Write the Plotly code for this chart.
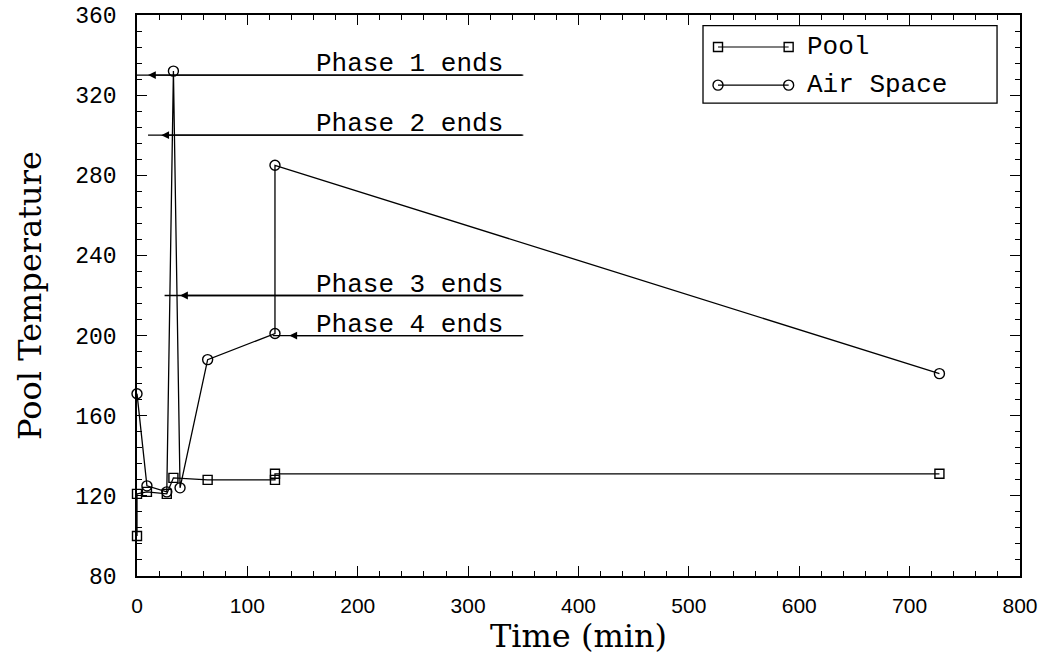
import plotly.graph_objects as go

# ---- data ----
pool_t = [0, 0, 9, 27, 33, 64, 125, 125, 727]
pool_T = [100, 121, 122, 121, 129, 128, 128, 131, 131]

air_t = [0, 9, 27, 33, 39, 64, 125, 125, 727]
air_T = [171, 125, 122, 332, 124, 188, 201, 285, 181]

phase_labels = ["Phase 1 ends", "Phase 2 ends", "Phase 3 ends", "Phase 4 ends"]
phase_T = [330, 300, 220, 200]
phase_head_t = [10, 22, 39, 138]
phase_start_t = [0, 10, 25, 123]
phase_end_t = 350
phase_text_t = 333

x_ticks = [0, 100, 200, 300, 400, 500, 600, 700, 800]
y_ticks = [80, 120, 160, 200, 240, 280, 320, 360]

MONO = "Liberation Mono"
SERIF = "DejaVu Serif"

fig = go.Figure()

fig.add_trace(go.Scatter(
    x=pool_t, y=pool_T, mode="lines+markers", name="Pool",
    line=dict(color="black", width=1.3),
    marker=dict(symbol="square-open", size=9, color="black", line=dict(width=1.4)),
    showlegend=False, cliponaxis=False))
fig.add_trace(go.Scatter(
    x=air_t, y=air_T, mode="lines+markers", name="Air Space",
    line=dict(color="black", width=1.3),
    marker=dict(symbol="circle-open", size=10, color="black", line=dict(width=1.4)),
    showlegend=False, cliponaxis=False))

shapes = []
annotations = []
for lab, T, hx, sx in zip(phase_labels, phase_T, phase_head_t, phase_start_t):
    shapes.append(dict(type="line", xref="x", yref="y", x0=sx, x1=phase_end_t, y0=T, y1=T,
                       line=dict(color="black", width=1.3)))
    annotations.append(dict(x=hx, y=T, ax=phase_end_t, ay=T, xref="x", yref="y",
                            axref="x", ayref="y", text="", showarrow=True,
                            arrowhead=2, arrowsize=1.2, arrowwidth=1.3, arrowcolor="black"))
    annotations.append(dict(x=phase_text_t, y=T, xref="x", yref="y", text=lab,
                            showarrow=False, xanchor="right", yanchor="bottom", yshift=-6,
                            font=dict(family=MONO, size=26, color="black")))

# custom legend (paper-fraction coordinates on an overlay axis)
shapes.append(dict(type="rect", xref="paper", yref="paper", x0=0.641, x1=0.974, y0=0.843,
                   y1=0.981, line=dict(color="black", width=1.3), fillcolor="white", layer="below"))
leg_x = [0.658, 0.738]
fig.add_trace(go.Scatter(x=leg_x, y=[0.943, 0.943], xaxis="x2", yaxis="y2",
                         mode="lines+markers", line=dict(color="black", width=1.2),
                         marker=dict(symbol="square-open", size=9, color="black", line=dict(width=1.4)),
                         showlegend=False, hoverinfo="skip"))
fig.add_trace(go.Scatter(x=leg_x, y=[0.875, 0.875], xaxis="x2", yaxis="y2",
                         mode="lines+markers", line=dict(color="black", width=1.2),
                         marker=dict(symbol="circle-open", size=10, color="black", line=dict(width=1.4)),
                         showlegend=False, hoverinfo="skip"))
annotations.append(dict(x=0.757, y=0.943, xref="paper", yref="paper", text="Pool",
                        showarrow=False, xanchor="left", yanchor="middle",
                        font=dict(family=MONO, size=26, color="black")))
annotations.append(dict(x=0.757, y=0.875, xref="paper", yref="paper", text="Air Space",
                        showarrow=False, xanchor="left", yanchor="middle",
                        font=dict(family=MONO, size=26, color="black")))

fig.update_layout(
    width=1055, height=657,
    margin=dict(l=137, r=35, t=15, b=81, autoexpand=False),
    paper_bgcolor="white", plot_bgcolor="white",
    showlegend=False,
    shapes=shapes, annotations=annotations,
    xaxis=dict(range=[0, 800], tickvals=x_ticks, ticktext=[str(v) for v in x_ticks],
               ticks="inside", ticklen=10, tickwidth=1.3, tickcolor="black",
               minor=dict(dtick=20, ticks="inside", ticklen=5, tickwidth=1, tickcolor="black"),
               showline=True, linecolor="black", linewidth=1.5, mirror="allticks",
               showgrid=False, zeroline=False, ticklabelstandoff=10, automargin=False,
               tickfont=dict(family="Liberation Sans", size=21, color="black"),
               title=dict(text="Time (min)", font=dict(family=SERIF, size=32, color="black"),
                          standoff=2)),
    yaxis=dict(range=[80, 360], tickvals=y_ticks, ticktext=[str(v) for v in y_ticks],
               ticks="inside", ticklen=10, tickwidth=1.3, tickcolor="black",
               minor=dict(dtick=8, ticks="inside", ticklen=5, tickwidth=1, tickcolor="black"),
               showline=True, linecolor="black", linewidth=1.5, mirror="allticks",
               showgrid=False, zeroline=False, ticklabelstandoff=14, automargin=False,
               tickfont=dict(family=MONO, size=23, color="black"),
               title=dict(text="Pool Temperature", font=dict(family=SERIF, size=32, color="black"),
                          standoff=24)),
    xaxis2=dict(range=[0, 1], overlaying="x", visible=False, fixedrange=True),
    yaxis2=dict(range=[0, 1], overlaying="y", visible=False, fixedrange=True),
)

fig.write_html("out.html")
